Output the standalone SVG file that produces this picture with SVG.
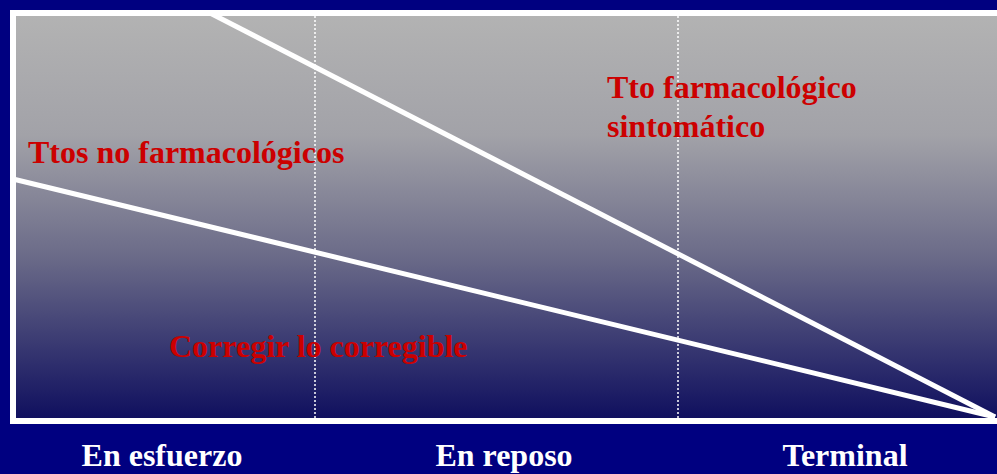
<svg xmlns="http://www.w3.org/2000/svg" width="997" height="474" viewBox="0 0 997 474">
<defs>
<linearGradient id="bg" x1="0" y1="0" x2="0" y2="1">
<stop offset="0" stop-color="#b3b3b3"/>
<stop offset="0.3" stop-color="#a2a2a8"/>
<stop offset="0.6" stop-color="#6a6a88"/>
<stop offset="1" stop-color="#0e0e5e"/>
</linearGradient>
<style>
.lbl{font-family:"Liberation Serif","Times New Roman",serif;font-weight:bold;font-size:32px}
.red{fill:#cc0000}
.wht{fill:#ffffff}
.div{stroke:#ffffff;stroke-width:1.5;stroke-dasharray:2 2;fill:none}
.ln{stroke:#ffffff;stroke-width:5;fill:none}
</style>
</defs>
<rect x="0" y="0" width="997" height="474" fill="#000080"/>
<g id="frame">
<rect x="13" y="13" width="1000" height="408" fill="url(#bg)" stroke="#ffffff" stroke-width="6"/>
</g>
<g id="dividers">
<line class="div" x1="315" y1="16" x2="315" y2="418"/>
<line class="div" x1="678" y1="16" x2="678" y2="418"/>
</g>
<g id="connectors">
<line class="ln" x1="210" y1="13" x2="995" y2="417"/>
<line class="ln" x1="13" y1="179" x2="995" y2="417"/>
</g>
<g id="labels">
<text class="lbl red" x="28" y="163">Ttos no farmacológicos</text>
<text class="lbl red" x="607" y="98">Tto farmacológico</text>
<text class="lbl red" x="607" y="137">sintomático</text>
<text class="lbl red" x="169" y="357">Corregir lo corregible</text>
</g>
<g id="axis">
<text class="lbl wht" x="162" y="466" text-anchor="middle">En esfuerzo</text>
<text class="lbl wht" x="504" y="466" text-anchor="middle">En reposo</text>
<text class="lbl wht" x="845" y="466" text-anchor="middle">Terminal</text>
</g>
</svg>
